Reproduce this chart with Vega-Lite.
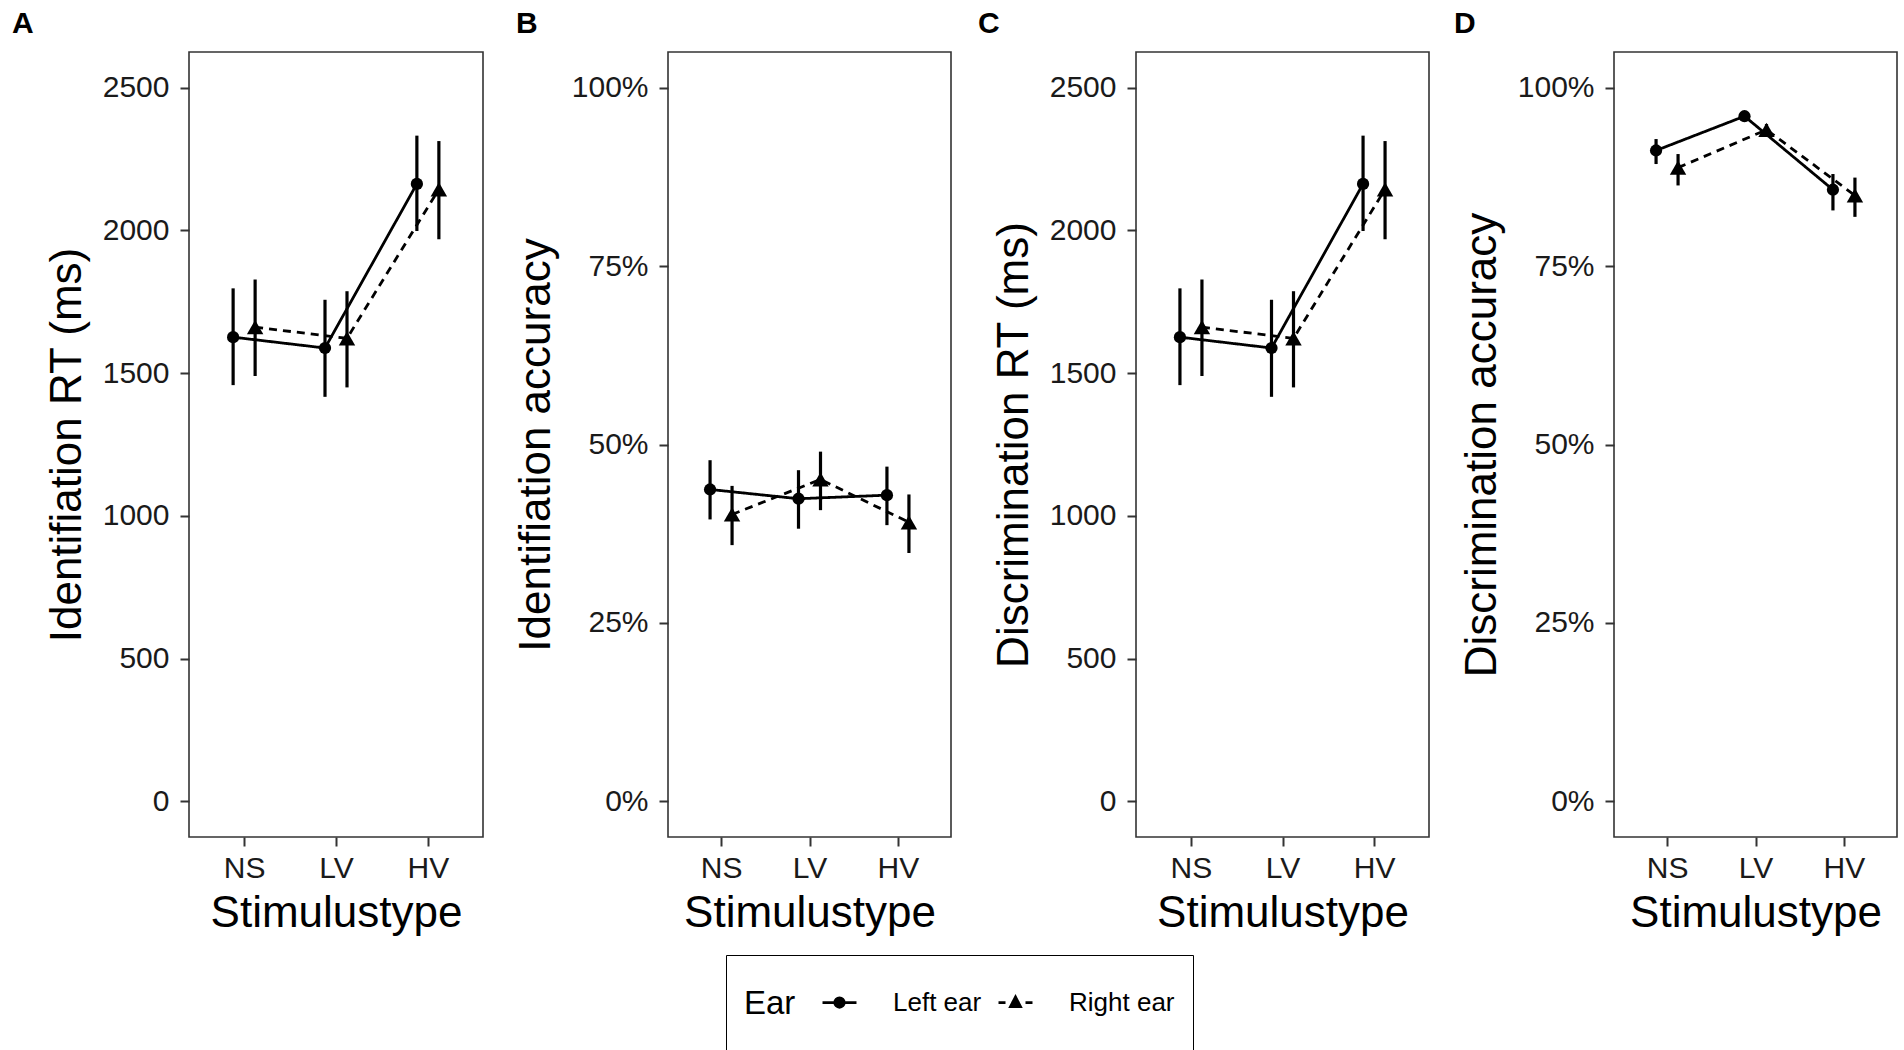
{
  "$schema": "https://vega.github.io/schema/vega-lite/v6.json",
  "background": "white",
  "padding": {"left": 11, "top": 8, "right": 0, "bottom": 0},
  "bounds": "flush",
  "spacing": 185,
  "config": {
    "font": "Liberation Sans",
    "view": {"stroke": "#333333", "strokeWidth": 1.6},
    "axis": {
      "domain": false,
      "grid": false,
      "tickColor": "#333333",
      "tickWidth": 2,
      "tickSize": 9,
      "labelFontSize": 30,
      "labelColor": "#1a1a1a",
      "titleFontSize": 44,
      "titleFontWeight": "normal",
      "titleColor": "black"
    },
    "axisX": {"labelAngle": 0, "labelPadding": 7, "titlePadding": 8},
    "axisY": {"labelPadding": 11, "titlePadding": 13},
    "title": {"fontSize": 30, "fontWeight": "bold", "color": "black", "anchor": "start", "frame": "group", "baseline": "alphabetic", "offset": 13}
  },
  "datasets": {
    "identRT": [
      {"Stimulustype": "NS", "Ear": "Left ear", "mean": 1626, "lo": 1458, "hi": 1797},
      {"Stimulustype": "NS", "Ear": "Right ear", "mean": 1661, "lo": 1490, "hi": 1828},
      {"Stimulustype": "LV", "Ear": "Left ear", "mean": 1588, "lo": 1417, "hi": 1757},
      {"Stimulustype": "LV", "Ear": "Right ear", "mean": 1622, "lo": 1450, "hi": 1787},
      {"Stimulustype": "HV", "Ear": "Left ear", "mean": 2163, "lo": 1998, "hi": 2332},
      {"Stimulustype": "HV", "Ear": "Right ear", "mean": 2144, "lo": 1969, "hi": 2313}
    ],
    "identAcc": [
      {"Stimulustype": "NS", "Ear": "Left ear", "mean": 0.437, "lo": 0.395, "hi": 0.478},
      {"Stimulustype": "NS", "Ear": "Right ear", "mean": 0.402, "lo": 0.359, "hi": 0.442},
      {"Stimulustype": "LV", "Ear": "Left ear", "mean": 0.424, "lo": 0.382, "hi": 0.464},
      {"Stimulustype": "LV", "Ear": "Right ear", "mean": 0.451, "lo": 0.408, "hi": 0.49},
      {"Stimulustype": "HV", "Ear": "Left ear", "mean": 0.429, "lo": 0.387, "hi": 0.469},
      {"Stimulustype": "HV", "Ear": "Right ear", "mean": 0.391, "lo": 0.348, "hi": 0.43}
    ],
    "discRT": [
      {"Stimulustype": "NS", "Ear": "Left ear", "mean": 1626, "lo": 1458, "hi": 1797},
      {"Stimulustype": "NS", "Ear": "Right ear", "mean": 1661, "lo": 1490, "hi": 1828},
      {"Stimulustype": "LV", "Ear": "Left ear", "mean": 1588, "lo": 1417, "hi": 1757},
      {"Stimulustype": "LV", "Ear": "Right ear", "mean": 1622, "lo": 1450, "hi": 1787},
      {"Stimulustype": "HV", "Ear": "Left ear", "mean": 2163, "lo": 1998, "hi": 2332},
      {"Stimulustype": "HV", "Ear": "Right ear", "mean": 2144, "lo": 1969, "hi": 2313}
    ],
    "discAcc": [
      {"Stimulustype": "NS", "Ear": "Left ear", "mean": 0.912, "lo": 0.893, "hi": 0.928},
      {"Stimulustype": "NS", "Ear": "Right ear", "mean": 0.888, "lo": 0.863, "hi": 0.907},
      {"Stimulustype": "LV", "Ear": "Left ear", "mean": 0.96, "lo": 0.955, "hi": 0.965},
      {"Stimulustype": "LV", "Ear": "Right ear", "mean": 0.941, "lo": 0.933, "hi": 0.949},
      {"Stimulustype": "HV", "Ear": "Left ear", "mean": 0.857, "lo": 0.828, "hi": 0.879},
      {"Stimulustype": "HV", "Ear": "Right ear", "mean": 0.849, "lo": 0.819, "hi": 0.874}
    ]
  },
  "resolve": {"scale": {"x": "independent", "y": "independent", "xOffset": "independent", "shape": "independent"}, "legend": {"shape": "independent"}},
  "hconcat": [
    {
      "title": {"text": "A", "dx": -177},
      "width": 294,
      "height": 785,
      "data": {"name": "identRT"},
      "resolve": {"scale": {"shape": "independent"}, "legend": {"shape": "independent"}},
      "encoding": {
        "x": {"field": "Stimulustype", "type": "nominal", "title": "Stimulustype", "scale": {"type": "point", "padding": 0.6, "domain": ["NS", "LV", "HV"]}},
        "xOffset": {"field": "Ear", "type": "nominal", "scale": {"type": "point", "padding": 0, "domain": ["Left ear", "Right ear"], "range": [-11, 11]}},
        "y": {"field": "mean", "type": "quantitative", "title": "Identifiation RT (ms)", "scale": {"domain": [-125, 2625], "nice": false, "zero": false}, "axis": {"values": [0, 500, 1000, 1500, 2000, 2500], "format": "d"}}
      },
      "layer": [
        {
          "mark": {"type": "line", "color": "black", "strokeWidth": 2.8},
          "encoding": {"strokeDash": {"field": "Ear", "type": "nominal", "scale": {"range": [[1, 0], [8, 6]]}, "legend": null}}
        },
        {
          "mark": {"type": "rule", "color": "black", "strokeWidth": 3.2},
          "encoding": {"y": {"field": "lo", "type": "quantitative"}, "y2": {"field": "hi"}}
        },
        {
          "mark": {"type": "point", "filled": true, "opacity": 1, "color": "black"},
          "encoding": {
            "size": {"field": "Ear", "type": "nominal", "scale": {"range": [150, 270]}, "legend": null},
            "shape": {"field": "Ear", "type": "nominal", "scale": {"range": ["circle", "triangle-up"]}, "legend": null}
          }
        },
        {
          "transform": [{"filter": "false"}],
          "mark": {"type": "point", "filled": false, "opacity": 1, "color": "black", "strokeWidth": 2.7},
          "encoding": {
            "shape": {
              "field": "Ear", "type": "nominal",
              "scale": {
                "domain": ["Left ear", "Right ear"],
                "range": [
                  "M-0.607,0H0.607M-0.17,0A0.17,0.17 0 1,0 0.17,0A0.17,0.17 0 1,0 -0.17,0ZM-0.08,0A0.08,0.08 0 1,0 0.08,0A0.08,0.08 0 1,0 -0.08,0ZM-0.02,0A0.02,0.02 0 1,0 0.02,0A0.02,0.02 0 1,0 -0.02,0ZM0,-1L0,-1M0,1L0,1",
                  "M-0.607,0H-0.357M-0.143,0H0.143M0.357,0H0.607M-0.18,0.15L0.18,0.15L0,-0.2ZM-0.059,0.076L0.059,0.076L0,-0.039ZM0,-1L0,-1M0,1L0,1"
                ]
              },
              "legend": {
                "orient": "none", "legendX": 537, "legendY": 903, "direction": "horizontal",
                "title": "Ear", "titleOrient": "left", "titleAnchor": "middle", "titleBaseline": "middle",
                "titleFontSize": 33, "titleFontWeight": "normal", "titleColor": "black", "titlePadding": 14,
                "labelFontSize": 26, "labelColor": "black", "labelOffset": 24,
                "symbolSize": 3136, "columnPadding": 4,
                "symbolStrokeColor": "black", "symbolStrokeWidth": 2.7, "symbolOpacity": 1,
                "strokeColor": "black", "padding": 18, "cornerRadius": 0
              }
            }
          }
        }
      ]
    },
    {
      "title": {"text": "B", "dx": -152},
      "width": 283,
      "height": 785,
      "data": {"name": "identAcc"},
      "encoding": {
        "x": {"field": "Stimulustype", "type": "nominal", "title": "Stimulustype", "scale": {"type": "point", "padding": 0.6, "domain": ["NS", "LV", "HV"]}},
        "xOffset": {"field": "Ear", "type": "nominal", "scale": {"type": "point", "padding": 0, "domain": ["Left ear", "Right ear"], "range": [-11, 11]}},
        "y": {"field": "mean", "type": "quantitative", "title": "Identifiation accuracy", "scale": {"domain": [-0.05, 1.05], "nice": false, "zero": false}, "axis": {"values": [0, 0.25, 0.5, 0.75, 1], "format": ".0%"}}
      },
      "layer": [
        {
          "mark": {"type": "line", "color": "black", "strokeWidth": 2.8},
          "encoding": {"strokeDash": {"field": "Ear", "type": "nominal", "scale": {"range": [[1, 0], [8, 6]]}, "legend": null}}
        },
        {
          "mark": {"type": "rule", "color": "black", "strokeWidth": 3.2},
          "encoding": {"y": {"field": "lo", "type": "quantitative"}, "y2": {"field": "hi"}}
        },
        {
          "mark": {"type": "point", "filled": true, "opacity": 1, "color": "black"},
          "encoding": {
            "size": {"field": "Ear", "type": "nominal", "scale": {"range": [150, 270]}, "legend": null},
            "shape": {"field": "Ear", "type": "nominal", "scale": {"range": ["circle", "triangle-up"]}, "legend": null}
          }
        }
      ]
    },
    {
      "title": {"text": "C", "dx": -158},
      "width": 293,
      "height": 785,
      "data": {"name": "discRT"},
      "encoding": {
        "x": {"field": "Stimulustype", "type": "nominal", "title": "Stimulustype", "scale": {"type": "point", "padding": 0.6, "domain": ["NS", "LV", "HV"]}},
        "xOffset": {"field": "Ear", "type": "nominal", "scale": {"type": "point", "padding": 0, "domain": ["Left ear", "Right ear"], "range": [-11, 11]}},
        "y": {"field": "mean", "type": "quantitative", "title": "Discrimination RT (ms)", "scale": {"domain": [-125, 2625], "nice": false, "zero": false}, "axis": {"values": [0, 500, 1000, 1500, 2000, 2500], "format": "d"}}
      },
      "layer": [
        {
          "mark": {"type": "line", "color": "black", "strokeWidth": 2.8},
          "encoding": {"strokeDash": {"field": "Ear", "type": "nominal", "scale": {"range": [[1, 0], [8, 6]]}, "legend": null}}
        },
        {
          "mark": {"type": "rule", "color": "black", "strokeWidth": 3.2},
          "encoding": {"y": {"field": "lo", "type": "quantitative"}, "y2": {"field": "hi"}}
        },
        {
          "mark": {"type": "point", "filled": true, "opacity": 1, "color": "black"},
          "encoding": {
            "size": {"field": "Ear", "type": "nominal", "scale": {"range": [150, 270]}, "legend": null},
            "shape": {"field": "Ear", "type": "nominal", "scale": {"range": ["circle", "triangle-up"]}, "legend": null}
          }
        }
      ]
    },
    {
      "title": {"text": "D", "dx": -160},
      "width": 283,
      "height": 785,
      "data": {"name": "discAcc"},
      "encoding": {
        "x": {"field": "Stimulustype", "type": "nominal", "title": "Stimulustype", "scale": {"type": "point", "padding": 0.6, "domain": ["NS", "LV", "HV"]}},
        "xOffset": {"field": "Ear", "type": "nominal", "scale": {"type": "point", "padding": 0, "domain": ["Left ear", "Right ear"], "range": [-11, 11]}},
        "y": {"field": "mean", "type": "quantitative", "title": "Discrimination accuracy", "scale": {"domain": [-0.05, 1.05], "nice": false, "zero": false}, "axis": {"values": [0, 0.25, 0.5, 0.75, 1], "format": ".0%"}}
      },
      "layer": [
        {
          "mark": {"type": "line", "color": "black", "strokeWidth": 2.8},
          "encoding": {"strokeDash": {"field": "Ear", "type": "nominal", "scale": {"range": [[1, 0], [8, 6]]}, "legend": null}}
        },
        {
          "mark": {"type": "rule", "color": "black", "strokeWidth": 3.2},
          "encoding": {"y": {"field": "lo", "type": "quantitative"}, "y2": {"field": "hi"}}
        },
        {
          "mark": {"type": "point", "filled": true, "opacity": 1, "color": "black"},
          "encoding": {
            "size": {"field": "Ear", "type": "nominal", "scale": {"range": [150, 270]}, "legend": null},
            "shape": {"field": "Ear", "type": "nominal", "scale": {"range": ["circle", "triangle-up"]}, "legend": null}
          }
        }
      ]
    }
  ]
}
